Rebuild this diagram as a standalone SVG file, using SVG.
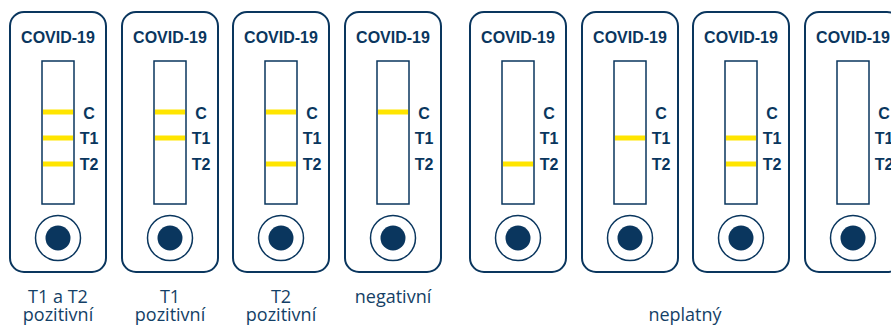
<svg xmlns="http://www.w3.org/2000/svg" xmlns:xlink="http://www.w3.org/1999/xlink" width="891" height="325" viewBox="0 0 891 325">
<style>
.body{fill:#fff;stroke:#0a365e;stroke-width:2}
.strip{fill:#fff;stroke:#0a365e;stroke-width:1.5}
.well{fill:#fff;stroke:#0a365e;stroke-width:1.5}
.dot{fill:#0a365e}
.title{font-family:"Liberation Sans",Arial,sans-serif;font-weight:700;font-size:16px;fill:#0a365e;text-anchor:middle}
.mark{font-family:"Liberation Sans",Arial,sans-serif;font-weight:700;font-size:16px;fill:#0a365e;text-anchor:middle}
.line{fill:#ffe500}
.cap{font-family:"Open Sans","Liberation Sans",sans-serif;font-size:18px;fill:#143f66;text-anchor:middle}
</style>
<defs>
<g id="cassette">
<rect class="body" x="-48" y="12" width="96" height="260" rx="14"/>
<text class="title" x="0" y="43">COVID-19</text>
<rect class="strip" x="-16" y="61" width="32" height="143"/>
<text class="mark" x="31" y="119">C</text>
<text class="mark" x="31" y="144">T1</text>
<text class="mark" x="31" y="170">T2</text>
<circle class="well" cx="0" cy="238" r="22.5"/>
<circle class="dot" cx="0" cy="238" r="12.5"/>
</g>
<rect id="lineC" class="line" x="-15" y="109.5" width="30" height="5"/>
<rect id="lineT1" class="line" x="-15" y="135.5" width="30" height="5"/>
<rect id="lineT2" class="line" x="-15" y="161.5" width="30" height="5"/>
</defs>
<g id="test1" transform="translate(58,0)"><use href="#cassette"/><use href="#lineC"/><use href="#lineT1"/><use href="#lineT2"/></g>
<g id="test2" transform="translate(170,0)"><use href="#cassette"/><use href="#lineC"/><use href="#lineT1"/></g>
<g id="test3" transform="translate(281,0)"><use href="#cassette"/><use href="#lineC"/><use href="#lineT2"/></g>
<g id="test4" transform="translate(393,0)"><use href="#cassette"/><use href="#lineC"/></g>
<g id="test5" transform="translate(518,0)"><use href="#cassette"/><use href="#lineT2"/></g>
<g id="test6" transform="translate(630,0)"><use href="#cassette"/><use href="#lineT1"/></g>
<g id="test7" transform="translate(741,0)"><use href="#cassette"/><use href="#lineT1"/><use href="#lineT2"/></g>
<g id="test8" transform="translate(853,0)"><use href="#cassette"/></g>
<g id="captions">
<text class="cap" x="58" y="303">T1 a T2</text>
<text class="cap" x="58" y="321">pozitivní</text>
<text class="cap" x="170" y="303">T1</text>
<text class="cap" x="170" y="321">pozitivní</text>
<text class="cap" x="281" y="303">T2</text>
<text class="cap" x="281" y="321">pozitivní</text>
<text class="cap" x="393" y="303">negativní</text>
<text class="cap" x="685" y="321">neplatný</text>
</g>
</svg>
